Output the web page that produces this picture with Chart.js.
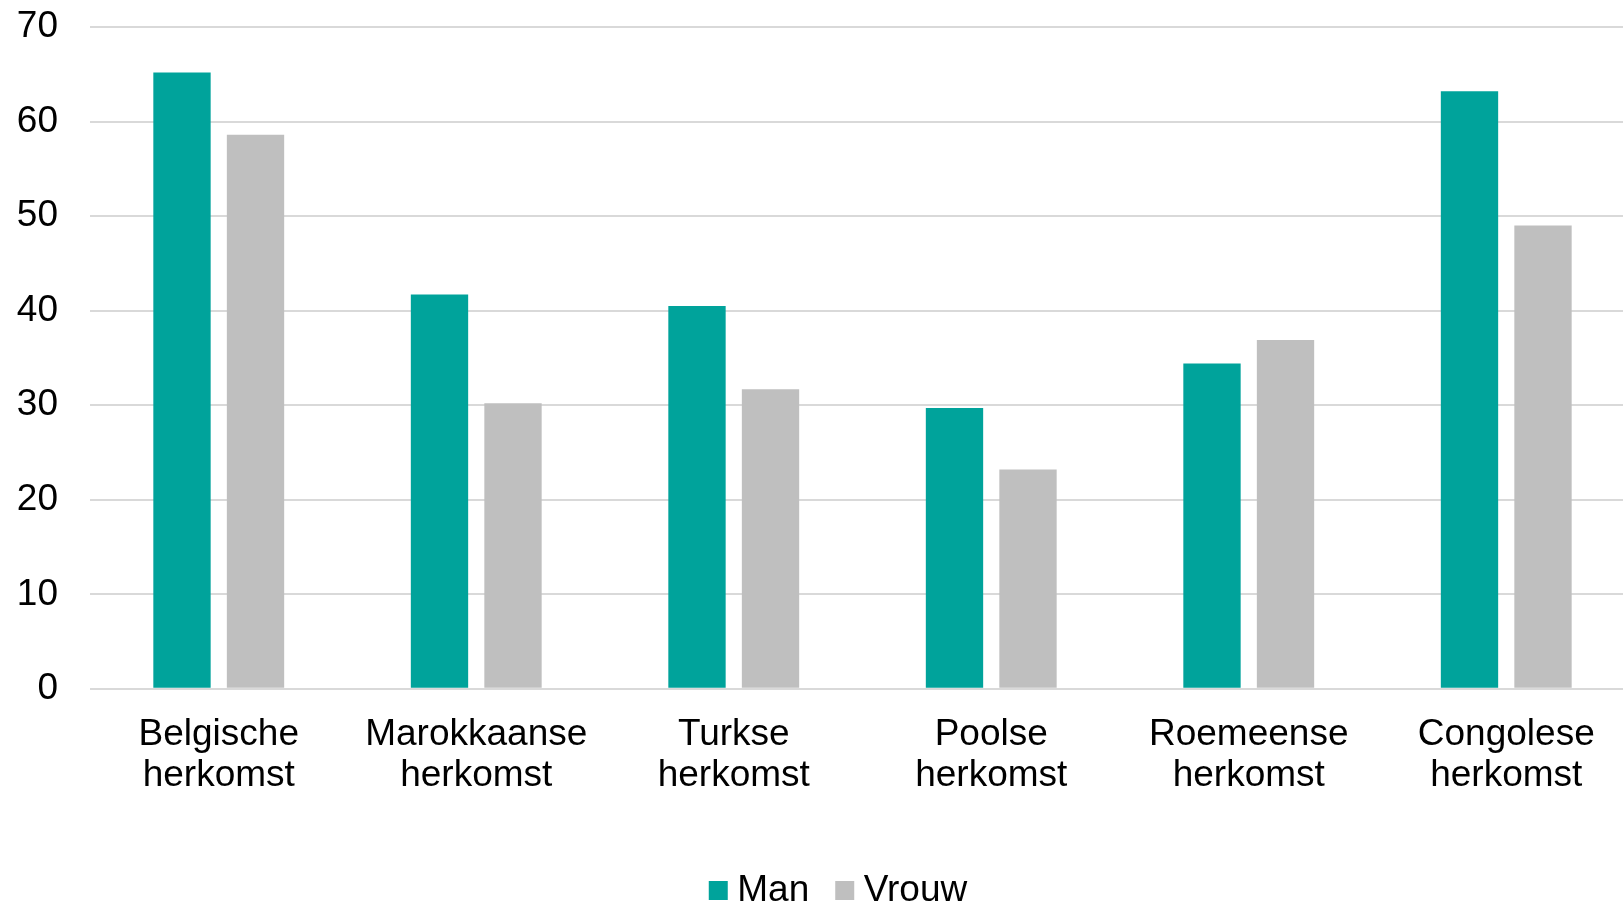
<!DOCTYPE html>
<html>
<head>
<meta charset="utf-8">
<script src="https://cdn.jsdelivr.net/npm/chart.js@4.4.1/dist/chart.umd.min.js"></script>
<style>
html,body{margin:0;padding:0;background:#fff;overflow:hidden;}
#wrap{position:absolute;left:0;top:0;width:1640px;height:919px;}
</style>
</head>
<body>
<div id="wrap"><canvas id="c"></canvas></div>
<script>
const categories = [["Belgische","herkomst"],["Marokkaanse","herkomst"],["Turkse","herkomst"],["Poolse","herkomst"],["Roemeense","herkomst"],["Congolese","herkomst"]];
const seriesNames = ["Man","Vrouw"];
const manValues = [65.2, 41.7, 40.5, 29.7, 34.4, 63.2];
const vrouwValues = [58.6, 30.2, 31.7, 23.2, 36.9, 49.0];
const yTicks = [0,10,20,30,40,50,60,70];

const FONT = "'Liberation Sans', Arial, sans-serif";
const legendShift = {
  id: 'legendShift',
  afterLayout(chart) {
    if (chart.legend) { chart.legend.left += 18; chart.legend.right += 18; }
  }
};
new Chart(document.getElementById('c'), {
  type: 'bar',
  data: {
    labels: categories,
    datasets: [
      {label: seriesNames[0], data: manValues, backgroundColor: '#00A39B', pointStyle: 'rect', categoryPercentage: 0.571, barPercentage: 0.78},
      {label: seriesNames[1], data: vrouwValues, backgroundColor: '#BFBFBF', pointStyle: 'rect', categoryPercentage: 0.571, barPercentage: 0.78}
    ]
  },
  plugins: [legendShift],
  options: {
    responsive: true,
    maintainAspectRatio: false,
    animation: false,
    layout: {padding: {left: 14, right: 5, top: 0, bottom: 0}},
    plugins: {
      tooltip: {enabled: false},
      legend: {
        position: 'bottom',
        labels: {
          font: {family: FONT, size: 37},
          color: '#000',
          usePointStyle: true,
          pointStyle: 'rect',
          boxWidth: 1,
          boxHeight: 19,
          padding: 35
        }
      }
    },
    scales: {
      x: {
        grid: {display: false, drawTicks: false},
        border: {display: false},
        afterFit: s => { s.height += 16; s.paddingLeft = 0; s.paddingRight = 0; },
        ticks: {font: {family: FONT, size: 37, lineHeight: 1.11}, color: '#000', padding: 25, maxRotation: 0, autoSkip: false}
      },
      y: {
        min: 0, max: 70,
        afterBuildTicks: s => { s.ticks = yTicks.map(v => ({value: v})); },
        afterFit: s => { s.width = 76; s.paddingTop = 27; s.paddingBottom = 0; },
        grid: {color: '#D9D9D9', lineWidth: 2, drawTicks: false},
        border: {display: false},
        ticks: {font: {family: FONT, size: 37}, color: '#000', padding: 32}
      }
    }
  }
});
</script>
</body>
</html>
